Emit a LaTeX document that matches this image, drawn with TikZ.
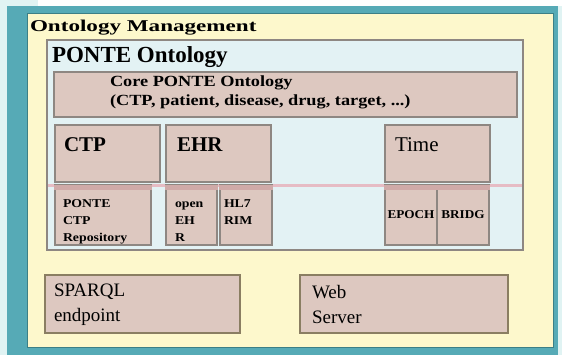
\documentclass[tikz,border=0pt]{standalone}
\usepackage{fontspec}
\setmainfont{Liberation Serif}
\usepackage{graphicx}

\definecolor{bgcyan}{HTML}{E0F3F3}
\definecolor{frameteal}{HTML}{56AAB6}
\definecolor{frameedge}{HTML}{3C7F86}
\definecolor{mgmtyellow}{HTML}{FDF8CC}
\definecolor{ontoblue}{HTML}{E3F2F4}
\definecolor{boxpink}{HTML}{DDC8C0}
\definecolor{boxgray}{HTML}{8E8782}
\definecolor{bandpink}{HTML}{CFAAA8}
\definecolor{linepink}{HTML}{E6BCC4}
\definecolor{olivegray}{HTML}{8A7E62}

\begin{document}
\begin{tikzpicture}[x=1pt,y=-1pt,
  every node/.style={inner sep=0pt, outer sep=0pt},
  pinkbox/.style={draw=boxgray, line width=1.3pt, fill=boxpink},
  endbox/.style={draw=olivegray, line width=2pt, fill=boxpink},
  smalltext/.style={font=\fontsize{12}{17}\selectfont\bfseries, align=left, anchor=west},
  headtext/.style={font=\fontsize{21}{24}\selectfont\bfseries, anchor=west}]
\useasboundingbox (0,0) rectangle (562,355);

% background and frame
\fill[bgcyan] (0,0) rectangle (562,355);
\fill[white] (38,0) rectangle (562,6);
\fill[frameteal] (7,6) rectangle (558,355);
\filldraw[fill=mgmtyellow, draw=frameedge, line width=0.8pt] (27,13) rectangle (553,347);
\node[anchor=west, font=\fontsize{16.5}{18}\selectfont\bfseries] (mgmt) at (30,28) {\scalebox{1.4}[1]{Ontology Management}};

% PONTE ontology
\node[draw=boxgray, line width=1.5pt, fill=ontoblue, minimum width=476, minimum height=210] (ponte) at (285,145) {};
\node[anchor=west, font=\fontsize{23}{26}\selectfont\bfseries] (pontetxt) at (52,57) {PONTE Ontology};

\node[pinkbox, minimum width=463, minimum height=45] (core) at (285.5,94.5) {};
\node[anchor=west, align=left, font=\fontsize{15.5}{19}\selectfont\bfseries] (coretxt) at (110,92)
  {\scalebox{1.18}[1]{Core PONTE Ontology}\\\scalebox{1.18}[1]{(CTP, patient, disease, drug, target, ...)}};

\node[pinkbox, minimum width=105, minimum height=57] (ctp) at (107.5,153.5) {};
\node[pinkbox, minimum width=105, minimum height=57] (ehr) at (218.5,153.5) {};
\node[pinkbox, minimum width=105, minimum height=57] (time) at (437.5,153.5) {};
\node[headtext] (ctptxt) at (64,145) {CTP};
\node[headtext] (ehrtxt) at (177,145) {EHR};
\node[headtext, font=\fontsize{21}{24}\selectfont] (timetxt) at (395,145) {Time};

\draw[linepink, line width=2.5pt] (47.8,185.5) -- (522.2,185.5);

\node[pinkbox, minimum width=96, minimum height=60] (repo) at (103,215) {};
\node[pinkbox, minimum width=51, minimum height=60] (openehr) at (191.5,215) {};
\node[pinkbox, minimum width=52, minimum height=60] (hl7) at (246,215) {};
\node[pinkbox, minimum width=52, minimum height=60] (epoch) at (411,215) {};
\node[pinkbox, minimum width=52, minimum height=60] (bridg) at (463,215) {};
\foreach \b in {repo,openehr,hl7,epoch,bridg}
  \fill[bandpink] ([xshift=-0.6pt]\b.north west) rectangle ([xshift=0.6pt,yshift=-5pt]\b.north east);

\node[smalltext] (repotxt) at (63,221.5) {\scalebox{1.15}[1]{PONTE}\\\scalebox{1.15}[1]{CTP}\\\scalebox{1.15}[1]{Repository}};
\node[smalltext] (openehrtxt) at (175,221.5) {\scalebox{1.15}[1]{open}\\\scalebox{1.15}[1]{EH}\\\scalebox{1.15}[1]{R}};
\node[smalltext] (hl7txt) at (224,212.5) {\scalebox{1.15}[1]{HL7}\\\scalebox{1.15}[1]{RIM}};
\node[smalltext, anchor=center] (epochtxt) at (epoch) {\scalebox{1.1}[1]{EPOCH}};
\node[smalltext, anchor=center] (bridgtxt) at (bridg) {\scalebox{1.1}[1]{BRIDG}};

% access points
\node[endbox, minimum width=195, minimum height=58] (sparql) at (142.5,304) {};
\node[endbox, minimum width=208, minimum height=58] (web) at (404,304) {};
\node[anchor=west, align=left, font=\fontsize{19}{25}\selectfont] (sparqltxt) at (54,304.5) {SPARQL\\endpoint};
\node[anchor=west, align=left, font=\fontsize{19}{25}\selectfont] (webtxt) at (312,304.5) {Web\\Server};
\end{tikzpicture}
\end{document}
